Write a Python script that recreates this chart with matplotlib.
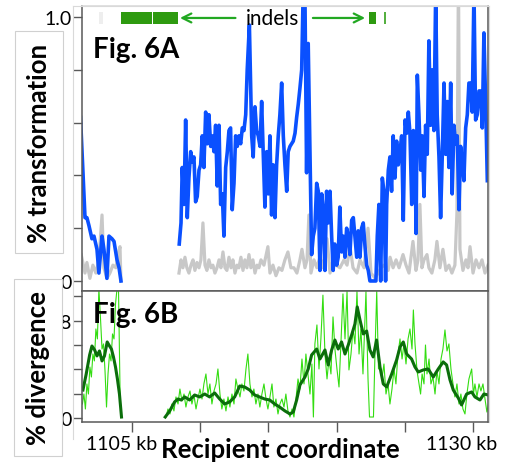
import numpy as np
import matplotlib
matplotlib.use("Agg")
import matplotlib.pyplot as plt
import matplotlib.transforms as mtransforms
from matplotlib.lines import Line2D

plt.rcParams['font.family'] = ['Lato', 'DejaVu Sans']

# % transformation (blue), x in kb
transf_pts = [
    (1101.20, 0.62), (1101.53, 0.24), (1101.67, 0.24), (1101.82, 0.21), (1102.04, 0.16),
    (1102.19, 0.17), (1102.41, 0.12), (1102.55, 0.03), (1102.78, 0.17), (1102.92, 0.12),
    (1103.14, 0.01), (1103.29, 0.17), (1103.51, 0.16), (1103.66, 0.15), (1103.88, 0.08),
    (1104.03, 0.05), (1104.17, 0.00), (np.nan, np.nan),
    (1108.45, 0.14), (1108.58, 0.22), (1108.67, 0.43), (1108.80, 0.29), (1108.92, 0.61),
    (1109.04, 0.24), (1109.16, 0.39), (1109.29, 0.49), (1109.41, 0.45), (1109.53, 0.47),
    (1109.65, 0.30), (1109.77, 0.32), (1109.90, 0.42), (1110.02, 0.44), (1110.14, 0.55),
    (1110.26, 0.43), (1110.39, 0.64), (1110.51, 0.52), (1110.63, 0.63), (1110.76, 0.51),
    (1110.87, 0.55), (1111.00, 0.49), (1111.12, 0.59), (1111.24, 0.36), (1111.37, 0.59),
    (1111.49, 0.29), (1111.61, 0.33), (1111.73, 0.17), (1111.86, 0.43), (1111.98, 0.49),
    (1112.10, 0.57), (1112.22, 0.58), (1112.34, 0.27), (1112.47, 0.37), (1112.59, 0.55),
    (1112.71, 0.51), (1112.83, 0.55), (1112.96, 0.52), (1113.08, 0.58), (1113.20, 0.57),
    (1113.33, 0.63), (1113.44, 0.80), (1113.60, 0.97), (1113.77, 0.55), (1113.88, 0.47),
    (1114.01, 0.66), (1114.13, 0.57), (1114.25, 0.55), (1114.38, 0.51), (1114.50, 0.68),
    (1114.62, 0.48), (1114.74, 0.28), (1114.87, 0.49), (1114.99, 0.33), (1115.11, 0.55),
    (1115.23, 0.25), (1115.35, 0.44), (1115.48, 0.24), (1115.60, 0.44), (1115.72, 0.55),
    (1115.84, 0.63), (1115.97, 0.75), (1116.09, 0.55), (1116.21, 0.44), (1116.34, 0.34),
    (1116.45, 0.49), (1116.58, 0.51), (1116.70, 0.52), (1116.82, 0.53), (1116.95, 0.56),
    (1117.07, 0.62), (1117.19, 0.67), (1117.31, 0.73), (1117.44, 0.80), (1117.55, 1.10),
    (1117.68, 1.08), (1117.80, 0.41), (1117.92, 0.90), (1118.05, 0.48), (1118.17, 0.10),
    (1118.29, 0.17), (1118.41, 0.20), (1118.54, 0.37), (1118.66, 0.34), (1118.78, 0.04),
    (1118.91, 0.33), (1119.02, 0.27), (1119.15, 0.04), (1119.27, 0.34), (1119.39, 0.22),
    (1119.52, 0.34), (1119.64, 0.17), (1119.75, 0.04), (1119.87, 0.14), (1120.01, 0.06),
    (1120.12, 0.09), (1120.24, 0.28), (1120.37, 0.11), (1120.49, 0.17), (1120.62, 0.09),
    (1120.74, 0.20), (1120.86, 0.17), (1120.98, 0.10), (1121.11, 0.23), (1121.23, 0.24),
    (1121.35, 0.17), (1121.48, 0.09), (1121.59, 0.19), (1121.72, 0.09), (1121.84, 0.20),
    (1121.96, 0.22), (1122.09, 0.13), (1122.21, 0.06), (1122.33, 0.04), (1122.45, 0.00),
    (1122.69, 0.00), (1122.89, 0.00), (1122.99, 0.17), (1123.11, 0.29), (1123.24, 0.00),
    (1123.36, 0.39), (1123.48, 0.34), (1123.60, 0.00), (1123.68, 0.29), (1123.80, 0.42),
    (1123.92, 0.47), (1124.04, 0.34), (1124.16, 0.55), (1124.29, 0.39), (1124.41, 0.53),
    (1124.53, 0.44), (1124.66, 0.49), (1124.78, 0.55), (1124.90, 0.23), (1125.03, 0.61),
    (1125.15, 0.56), (1125.27, 0.64), (1125.39, 0.56), (1125.52, 0.29), (1125.64, 0.57),
    (1125.76, 0.49), (1125.84, 0.18), (1125.93, 0.78), (1126.05, 0.63), (1126.18, 0.42),
    (1126.29, 0.55), (1126.42, 0.32), (1126.54, 0.59), (1126.66, 0.48), (1126.78, 0.91),
    (1126.91, 0.59), (1127.03, 0.80), (1127.15, 0.57), (1127.28, 1.10), (1127.39, 0.63),
    (1127.52, 0.47), (1127.64, 0.24), (1127.76, 0.47), (1127.89, 0.75), (1128.01, 0.48),
    (1128.13, 0.68), (1128.25, 0.43), (1128.38, 0.75), (1128.49, 0.33), (1128.62, 0.59),
    (1128.74, 0.52), (1128.86, 0.55), (1128.99, 0.27), (1129.11, 0.51), (1129.23, 0.45),
    (1129.35, 0.38), (1129.48, 0.58), (1129.60, 0.63), (1129.72, 0.75), (1129.85, 0.75),
    (1129.96, 0.64), (1130.09, 1.10), (1130.21, 0.61), (1130.33, 0.63), (1130.46, 0.72),
    (1130.58, 0.72), (1130.70, 0.58), (1130.82, 0.94), (1130.95, 0.67), (1131.07, 0.38),
]

# background (grey)
backgr_pts = [
    (1101.25, 0.10), (1101.53, 0.03), (1101.67, 0.07), (1101.89, 0.01), (1102.11, 0.06),
    (1102.33, 0.03), (1102.55, 0.08), (1102.78, 0.25), (1102.92, 0.05), (1103.14, 0.01),
    (1103.36, 0.03), (1103.58, 0.06), (1103.80, 0.05), (1103.95, 0.10), (1104.10, 0.13),
    (1104.17, 0.00), (np.nan, np.nan),
    (1108.43, 0.03), (1108.58, 0.08), (1108.72, 0.05), (1108.87, 0.09), (1109.01, 0.05),
    (1109.16, 0.03), (1109.31, 0.06), (1109.46, 0.08), (1109.60, 0.04), (1109.75, 0.07),
    (1109.90, 0.05), (1110.04, 0.08), (1110.19, 0.22), (1110.34, 0.06), (1110.48, 0.04),
    (1110.63, 0.08), (1110.78, 0.05), (1110.92, 0.06), (1111.07, 0.03), (1111.22, 0.05),
    (1111.37, 0.08), (1111.51, 0.05), (1111.66, 0.11), (1111.81, 0.05), (1111.95, 0.04),
    (1112.10, 0.09), (1112.25, 0.05), (1112.39, 0.08), (1112.54, 0.03), (1112.69, 0.06),
    (1112.83, 0.05), (1112.98, 0.09), (1113.13, 0.04), (1113.27, 0.08), (1113.42, 0.05),
    (1113.57, 0.10), (1113.71, 0.05), (1113.86, 0.08), (1114.01, 0.03), (1114.16, 0.06),
    (1114.30, 0.05), (1114.45, 0.08), (1114.67, 0.06), (1114.96, 0.13), (1115.11, 0.03),
    (1115.33, 0.06), (1115.55, 0.02), (1115.77, 0.05), (1115.99, 0.04), (1116.21, 0.08),
    (1116.43, 0.11), (1116.65, 0.05), (1116.87, 0.05), (1117.09, 0.03), (1117.31, 0.08),
    (1117.46, 0.12), (1117.68, 0.05), (1117.83, 0.08), (1117.97, 0.25), (1118.12, 0.03),
    (1118.34, 0.08), (1118.56, 0.05), (1118.78, 0.09), (1119.00, 0.05), (1119.30, 0.16),
    (1119.52, 0.03), (1119.74, 0.08), (1119.96, 0.06), (1120.25, 0.05), (1120.55, 0.08),
    (1120.77, 0.06), (1120.99, 0.13), (1121.21, 0.05), (1121.50, 0.03), (1121.72, 0.08),
    (1122.02, 0.05), (1122.31, 0.20), (1122.53, 0.03), (1122.83, 0.01), (1123.05, 0.03),
    (1123.27, 0.05), (1123.49, 0.06), (1123.79, 0.04), (1123.93, 0.09), (1124.15, 0.05),
    (1124.37, 0.08), (1124.59, 0.05), (1124.88, 0.10), (1125.10, 0.06), (1125.32, 0.03),
    (1125.61, 0.15), (1125.83, 0.04), (1125.98, 0.08), (1126.12, 0.29), (1126.27, 0.05),
    (1126.42, 0.08), (1126.64, 0.10), (1126.78, 0.05), (1127.00, 0.03), (1127.22, 0.08),
    (1127.37, 0.15), (1127.59, 0.05), (1127.81, 0.12), (1128.03, 0.04), (1128.25, 0.06),
    (1128.47, 0.03), (1128.69, 0.06), (1128.84, 0.26), (1128.95, 1.18), (1129.06, 0.12),
    (1129.28, 0.04), (1129.50, 0.08), (1129.65, 0.05), (1129.80, 0.13), (1130.02, 0.03),
    (1130.24, 0.08), (1130.46, 0.05), (1130.68, 0.08), (1130.90, 0.03), (1131.12, 0.06),
]

# % divergence, raw (light green)
diverg_pts = [
    (1101.34, 1.15), (1101.45, 1.97), (1101.56, 0.74), (1101.67, 2.80), (1101.78, 1.97),
    (1101.89, 4.19), (1102.00, 3.37), (1102.11, 5.26), (1102.22, 4.69), (1102.33, 7.32),
    (1102.44, 6.50), (1102.55, 10.6), (1102.67, 8.14), (1102.78, 5.67), (1102.89, 6.09),
    (1103.00, 3.87), (1103.11, 0.90), (1103.22, 3.62), (1103.33, 5.26), (1103.44, 4.69),
    (1103.55, 6.91), (1103.66, 6.50), (1103.77, 9.38), (1103.88, 10.6), (1103.99, 10.6),
    (1104.10, 2.38), (1104.17, 0.08), (np.nan, np.nan),
    (1107.48, 0.08), (1107.62, 0.74), (1107.77, 0.33), (1107.91, 1.15), (1108.06, 0.58),
    (1108.21, 1.73), (1108.36, 1.15), (1108.50, 2.38), (1108.65, 1.40), (1108.80, 1.97),
    (1108.94, 0.90), (1109.09, 1.73), (1109.24, 2.22), (1109.38, 1.15), (1109.53, 1.89),
    (1109.68, 0.74), (1109.82, 1.56), (1109.97, 2.38), (1110.12, 1.56), (1110.26, 2.80),
    (1110.41, 3.62), (1110.56, 1.97), (1110.70, 2.80), (1110.85, 1.15), (1111.00, 2.22),
    (1111.15, 2.80), (1111.29, 4.03), (1111.44, 1.97), (1111.58, 0.74), (1111.73, 1.56),
    (1111.88, 0.58), (1112.03, 1.73), (1112.17, 0.90), (1112.32, 1.97), (1112.47, 1.15),
    (1112.61, 3.21), (1112.76, 2.38), (1112.91, 1.73), (1113.05, 2.80), (1113.20, 2.22),
    (1113.35, 4.03), (1113.49, 5.26), (1113.64, 2.80), (1113.79, 1.73), (1113.93, 2.38),
    (1114.08, 1.15), (1114.23, 1.97), (1114.37, 0.90), (1114.52, 1.97), (1114.67, 2.80),
    (1114.82, 1.56), (1114.96, 0.74), (1115.11, 1.73), (1115.26, 2.80), (1115.40, 0.90),
    (1115.55, 1.56), (1115.70, 0.33), (1115.84, 1.15), (1115.99, 1.56), (1116.14, 0.90),
    (1116.28, 1.97), (1116.43, 0.58), (1116.58, 0.08), (1116.73, 0.74), (1116.87, 0.08),
    (1117.02, 1.56), (1117.17, 3.21), (1117.31, 2.38), (1117.46, 4.85), (1117.61, 2.80),
    (1117.75, 5.26), (1117.90, 3.62), (1118.05, 1.97), (1118.19, 4.44), (1118.30, 0.08),
    (1118.41, 6.09), (1118.56, 7.65), (1118.71, 4.03), (1118.85, 6.50), (1119.00, 10.1),
    (1119.15, 5.26), (1119.30, 3.21), (1119.44, 4.85), (1119.59, 3.62), (1119.74, 8.31),
    (1119.88, 5.67), (1120.03, 4.03), (1120.18, 2.55), (1120.32, 6.09), (1120.47, 10.2),
    (1120.62, 6.50), (1120.77, 10.4), (1120.91, 3.95), (1121.06, 5.26), (1121.21, 7.32),
    (1121.35, 6.09), (1121.50, 10.4), (1121.65, 5.26), (1121.79, 7.32), (1121.94, 3.62),
    (1122.16, 10.4), (1122.31, 3.21), (1122.42, 0.08), (1122.71, 0.08), (1122.83, 5.67),
    (1122.95, 10.4), (1123.08, 4.03), (1123.19, 4.44), (1123.33, 3.21), (1123.48, 4.44),
    (1123.63, 1.97), (1123.78, 2.80), (1123.92, 1.15), (1124.07, 2.38), (1124.22, 4.03),
    (1124.36, 2.80), (1124.51, 5.26), (1124.66, 6.50), (1124.81, 4.85), (1124.95, 6.09),
    (1125.10, 4.44), (1125.25, 6.50), (1125.39, 7.32), (1125.54, 5.67), (1125.64, 8.88),
    (1125.76, 6.09), (1125.91, 3.87), (1126.06, 2.80), (1126.17, 1.97), (1126.28, 3.62),
    (1126.42, 2.80), (1126.53, 6.00), (1126.64, 3.62), (1126.79, 4.85), (1126.93, 2.80),
    (1127.08, 3.37), (1127.23, 1.97), (1127.37, 3.87), (1127.52, 2.80), (1127.67, 4.85),
    (1127.81, 5.67), (1127.96, 7.24), (1128.11, 5.51), (1128.25, 6.09), (1128.40, 4.03),
    (1128.55, 2.80), (1128.69, 1.73), (1128.84, 2.80), (1128.99, 1.15), (1129.13, 1.97),
    (1129.28, 0.74), (1129.43, 0.33), (1129.57, 1.97), (1129.72, 3.21), (1129.92, 4.03),
    (1130.05, 1.97), (1130.16, 2.80), (1130.31, 1.73), (1130.46, 2.80), (1130.60, 2.22),
    (1130.75, 2.80), (1130.90, 1.56), (1131.04, 0.49), (1131.15, 1.15),
]

# % divergence, smoothed (dark green)
smooth_pts = [
    (1101.38, 2.30), (1101.62, 3.62), (1101.87, 5.18), (1102.04, 5.92), (1102.24, 5.59),
    (1102.41, 5.10), (1102.59, 5.51), (1102.78, 4.69), (1102.96, 5.10), (1103.16, 6.25),
    (1103.33, 5.92), (1103.47, 5.67), (1103.62, 5.02), (1103.77, 4.19), (1103.91, 3.21),
    (1104.06, 1.97), (1104.21, 0.08), (np.nan, np.nan),
    (1107.42, 0.08), (1107.75, 0.58), (1108.11, 1.32), (1108.36, 1.56), (1108.60, 1.48),
    (1108.85, 1.73), (1109.21, 1.48), (1109.58, 1.89), (1109.95, 1.73), (1110.32, 1.97),
    (1110.68, 1.73), (1111.05, 2.06), (1111.42, 1.56), (1111.78, 1.15), (1112.15, 1.32),
    (1112.52, 1.73), (1112.89, 2.63), (1113.25, 2.55), (1113.62, 2.30), (1113.99, 1.89),
    (1114.35, 1.73), (1114.72, 1.56), (1115.09, 1.48), (1115.46, 1.15), (1115.82, 0.90),
    (1116.21, 0.58), (1116.58, 0.33), (1116.82, 0.49), (1117.07, 1.48), (1117.31, 2.71),
    (1117.68, 3.37), (1117.92, 4.03), (1118.17, 5.18), (1118.54, 5.67), (1118.78, 4.85),
    (1119.15, 5.59), (1119.39, 4.36), (1119.64, 5.59), (1119.88, 6.41), (1120.12, 5.67),
    (1120.37, 6.25), (1120.62, 5.26), (1120.86, 6.00), (1121.11, 6.83), (1121.35, 7.73),
    (1121.52, 9.13), (1121.72, 8.06), (1121.96, 6.91), (1122.21, 7.15), (1122.45, 5.59),
    (1122.69, 5.02), (1122.94, 6.41), (1123.19, 4.19), (1123.43, 2.80), (1123.68, 2.55),
    (1124.05, 3.62), (1124.41, 4.77), (1124.66, 5.84), (1124.90, 6.25), (1125.15, 5.26),
    (1125.51, 4.85), (1125.76, 4.19), (1126.00, 3.78), (1126.37, 3.95), (1126.73, 4.03),
    (1127.10, 3.37), (1127.47, 4.03), (1127.83, 4.61), (1128.08, 4.36), (1128.33, 3.13),
    (1128.57, 2.30), (1128.94, 1.64), (1129.18, 1.07), (1129.55, 1.97), (1129.92, 2.14),
    (1130.16, 1.73), (1130.53, 1.48), (1130.82, 1.97), (1131.14, 1.89),
]

# indel blocks (start kb, end kb, colour)
indels = [
    (1102.55, 1102.85, '#eeeeee'),
    (1104.17, 1106.45, '#2e9a10'),
    (1106.52, 1108.36, '#2e9a10'),
    (1122.37, 1122.89, '#2e9a10'),
    (1123.49, 1123.63, '#55b040'),
]

x_ticks = [1105, 1110, 1115, 1120, 1125, 1130]
x_ticklabels = ['1105 kb', '', '', '', '', '1130 kb']

tx, ty = np.array(transf_pts).T
bx, by = np.array(backgr_pts).T
dx, dy = np.array(diverg_pts).T
sx, sy = np.array(smooth_pts).T

fig = plt.figure(figsize=(5.11, 4.64), dpi=100)
W, H = 511.0, 464.0
ax1 = fig.add_axes([82 / W, 1 - 292 / H, 406 / W, 285 / H])
ax2 = fig.add_axes([82 / W, 1 - 423 / H, 406 / W, 131 / H], sharex=ax1)

spine_c = '#595959'
for ax in (ax1, ax2):
    for s in ax.spines.values():
        s.set_color(spine_c)
        s.set_linewidth(1.1)
ax1.spines['top'].set_color('#d9d9d9')

ax1.plot(bx, by, color='#c8c8c8', lw=2.3, solid_joinstyle='round')
ax1.plot(tx, ty, color='#0a50ff', lw=2.6, solid_joinstyle='round')
ax1.set_xlim(1101.31, 1131.12)
ax1.set_ylim(-0.038, 1.042)
ax1.set_yticks([0, 0.2, 0.4, 0.6, 0.8, 1.0])
ax1.set_yticklabels(['0', '', '', '', '', '1.0'])
ax1.tick_params(axis='y', direction='out', length=6.5, width=1, color=spine_c,
                labelsize=14, pad=1)
ax1.tick_params(axis='x', length=0, labelbottom=False)

# indels bar + arrows
trans = mtransforms.blended_transform_factory(ax1.transData, ax1.transAxes)
for x0, x1, c in indels:
    ax1.fill_between([x0, x1], 0.937, 0.979, color=c, transform=trans, lw=0)
ax1.annotate('', xy=(1108.3, 0.958), xytext=(1112.78, 0.958), xycoords=trans,
             textcoords=trans,
             arrowprops=dict(arrowstyle='->', color='#22a822', lw=1.6,
                             mutation_scale=16))
ax1.annotate('', xy=(1122.3, 0.958), xytext=(1118.06, 0.958), xycoords=trans,
             textcoords=trans,
             arrowprops=dict(arrowstyle='->', color='#22a822', lw=1.6,
                             mutation_scale=16))
ax1.text(1115.33, 0.958, 'indels', transform=trans, ha='center', va='center',
         fontsize=15)
ax1.text(0.027, 0.821, 'Fig. 6A', transform=ax1.transAxes, fontsize=20,
         fontweight='bold', va='baseline')

ax2.plot(dx, dy, color='#33dd11', lw=0.8)
ax2.plot(sx, sy, color='#0b6e0b', lw=2.2, solid_joinstyle='round')
ax2.set_ylim(-0.33, 10.44)
ax2.set_yticks([0, 2, 4, 6, 8, 10])
ax2.set_yticklabels(['0', '', '', '', '8', ''])
ax2.tick_params(axis='y', direction='out', length=6.5, width=1, color=spine_c,
                labelsize=14, pad=1)
ax2.set_xticks(x_ticks)
ax2.set_xticklabels(x_ticklabels)
ax2.tick_params(axis='x', direction='out', length=7.2, width=1, color=spine_c,
                labelsize=14, pad=2)
offset = mtransforms.ScaledTranslation(-11 / 100, 0, fig.dpi_scale_trans)
for lab in ax2.get_xticklabels():
    lab.set_transform(lab.get_transform() + offset)
ax2.text(0.027, 0.763, 'Fig. 6B', transform=ax2.transAxes, fontsize=20,
         fontweight='bold', va='baseline')

# axis titles (boxed like the original)
box = dict(boxstyle='square,pad=0.45', fc='white', ec='#d0d0d0', lw=0.8)
fig.text(39 / W, 1 - 143 / H, '% transformation', rotation=90, ha='center',
         va='center', fontsize=18.5, fontweight='bold', bbox=box)
fig.text(38 / W, 1 - 368 / H, '% divergence', rotation=90, ha='center',
         va='center', fontsize=18.5, fontweight='bold', bbox=box)
fig.text(280.5 / W, 1 - 458 / H, 'Recipient coordinate', ha='center',
         va='baseline', fontsize=18.5, fontweight='bold')

# light outer frame of the plot area
frame_c = '#d9d9d9'
fig.add_artist(Line2D([73 / W, 489 / W], [1 - 7 / H, 1 - 7 / H], color=frame_c, lw=0.8))
fig.add_artist(Line2D([73 / W, 73 / W], [1 - 7 / H, 1 - 440 / H], color=frame_c, lw=0.8))
fig.add_artist(Line2D([489 / W, 489 / W], [1 - 7 / H, 1 - 423 / H], color=frame_c, lw=0.8))

fig.savefig('out.png', dpi=100)
